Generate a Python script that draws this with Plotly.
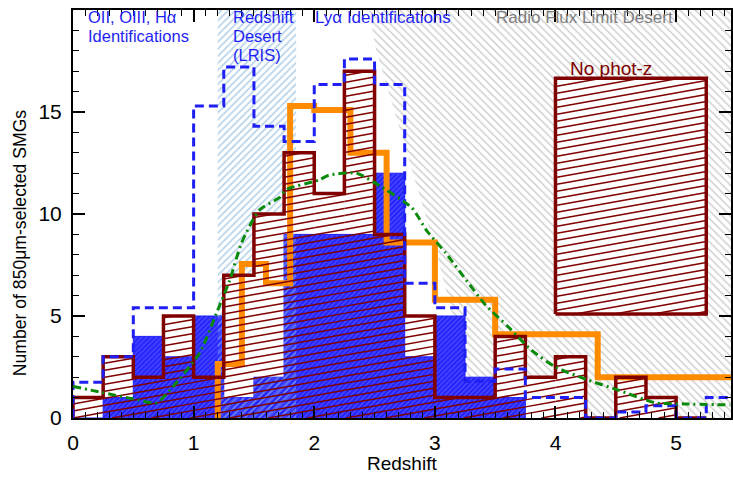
import math
import plotly.graph_objects as go

# ---------------- data ----------------
bin_width = 0.25

# photometric-redshift SMGs (maroon hatched histogram)
photz_counts = [1, 3, 2, 5, 2, 7, 10, 13, 11, 17, 9, 5, 1, 1, 4, 2, 3, 0, 2, 1, 0]
# spectroscopic SMGs (solid blue histogram)
specz_counts = [0, 1, 4, 3, 5, 1, 2, 9, 9, 9, 12, 3, 5, 2, 1]
# full sample (blue dashed histogram)
total_counts = [1.75, 3.0, 5.4, 5.4, 15.3, 17.2, 14.3, 13.55, 16.35, 17.6, 16.35,
                6.6, 5.4, 1.8, 2.4, 1.0, 1.0, 0.0, 0.3, 0.6, 0.0, 1.0]
# radio-identified distribution (orange step line), uneven bins
radio_edges = [1.2, 1.4, 1.6, 1.8, 2.0, 2.3, 2.6, 3.0, 3.5, 4.35, 5.6]
radio_counts = [2.65, 7.55, 6.6, 15.3, 15.1, 13.0, 8.6, 5.8, 4.1, 2.0]
# model curve (green dash-dot)
model_z = [0.0, 0.24, 0.49, 0.694, 0.826, 1.05, 1.19, 1.30, 1.397, 1.545, 1.71, 1.77,
           2.04, 2.12, 2.35, 2.51, 2.81, 2.93, 3.09, 3.26, 3.42, 3.61, 3.80,
           4.0, 4.27, 4.52, 4.83, 5.07, 5.45]
model_n = [1.55, 1.25, 0.95, 0.74, 1.52, 3.19, 5.15, 6.76, 8.58, 10.2, 10.8, 11.2,
           11.67, 11.9, 12.0, 11.5, 10.3, 9.2, 8.09, 6.76, 5.54, 4.46, 3.33,
           2.5, 1.86, 1.37, 0.74, 0.69, 0.64]
# spectroscopic redshift desert (LRIS)
desert_z = [1.2, 1.85]
# boundary of the radio flux limit desert
radio_limit_z = [2.455, 2.51, 3.01, 3.26, 3.37]
radio_limit_n = [20.0, 18.1, 8.2, 2.35, 0.0]
# sources without photometric redshift
nophotz_z = [4.0, 5.25]
nophotz_n = [5.1, 16.65]

X_MAX, Y_MAX = 5.455, 20

MAROON = "#800000"
BLUE = "#1f1ff5"
ORANGE = "#ff8c00"
GREEN = "#0a8a0a"
GRAY_TXT = "#808080"
FONT = "Liberation Sans, Arial, Helvetica, sans-serif"


def edges_for(counts):
    return [i * bin_width for i in range(len(counts) + 1)]


def step_path(edges, heights, base=0.0):
    xs, ys = [edges[0]], [base]
    for i, h in enumerate(heights):
        xs += [edges[i], edges[i + 1]]
        ys += [h, h]
    xs.append(edges[-1])
    ys.append(base)
    return xs, ys


def clip_bins(edges, heights, lo, hi):
    """Restrict a histogram to the interval [lo, hi]."""
    new_edges, new_heights = [], []
    for i, h in enumerate(heights):
        a, b = max(edges[i], lo), min(edges[i + 1], hi)
        if b > a:
            if not new_edges:
                new_edges.append(a)
            new_edges.append(b)
            new_heights.append(h)
    return new_edges, new_heights


def hatch(columns, slope, spacing):
    """Shallow hatch lines clipped to a set of (z0, z1, top, bottom) columns."""
    zmin = min(c[0] for c in columns)
    zmax = max(c[1] for c in columns)
    top = max(c[2] for c in columns)
    bottom = min(c[3] for c in columns)
    c = math.floor((bottom - slope * zmax) / spacing) * spacing
    c_hi = top - slope * zmin
    xs, ys = [], []
    while c <= c_hi:
        for z0, z1, t, b in columns:
            lo = max(z0, (b - c) / slope)
            hi = min(z1, (t - c) / slope)
            if hi > lo:
                xs += [lo, hi, None]
                ys += [slope * lo + c, slope * hi + c, None]
        c += spacing
    return xs, ys


fig = go.Figure()

# radio flux limit desert (grey hatch)
gx = radio_limit_z + [X_MAX + 0.1, X_MAX + 0.1]
gy = radio_limit_n + [0, Y_MAX]
fig.add_trace(go.Scatter(
    x=gx, y=gy, mode="lines", fill="toself", line=dict(width=0),
    fillcolor="rgba(0,0,0,0)",
    fillpattern=dict(shape="\\", fgcolor="#9c9c9c", size=5.5, solidity=0.28),
    hoverinfo="skip"))

# redshift desert (light-blue hatch)
fig.add_trace(go.Scatter(
    x=[desert_z[0], desert_z[1], desert_z[1], desert_z[0], desert_z[0]],
    y=[0, 0, Y_MAX, Y_MAX, 0], mode="lines", fill="toself", line=dict(width=0),
    fillcolor="rgba(0,0,0,0)",
    fillpattern=dict(shape="/", fgcolor="#6aa6d6", size=5, solidity=0.34),
    hoverinfo="skip"))

# white backgrounds under the maroon hatching
pe = edges_for(photz_counts)
px_, py_ = step_path(pe, photz_counts)
fig.add_trace(go.Scatter(x=px_, y=py_, mode="lines", fill="toself",
                         fillcolor="white", line=dict(width=0), hoverinfo="skip"))
bx = [nophotz_z[0], nophotz_z[1], nophotz_z[1], nophotz_z[0], nophotz_z[0]]
by = [nophotz_n[0], nophotz_n[0], nophotz_n[1], nophotz_n[1], nophotz_n[0]]
fig.add_trace(go.Scatter(x=bx, y=by, mode="lines", fill="toself",
                         fillcolor="white", line=dict(width=0), hoverinfo="skip"))

# spectroscopic histogram (filled blue)
se = edges_for(specz_counts)
sx, sy = step_path(se, specz_counts)
fig.add_trace(go.Scatter(
    x=sx, y=sy, mode="lines", fill="toself", fillcolor=BLUE,
    line=dict(width=1, color=BLUE),
    fillpattern=dict(shape="/", bgcolor="#2323ff", fgcolor="#8c8cff",
                     size=3.5, solidity=0.3),
    hoverinfo="skip"))

# desert hatch showing through the blue fill
de, dh = clip_bins(se, specz_counts, desert_z[0], desert_z[1])
dx, dy = step_path(de, dh)
fig.add_trace(go.Scatter(
    x=dx, y=dy, mode="lines", fill="toself", line=dict(width=0),
    fillcolor="rgba(0,0,0,0)",
    fillpattern=dict(shape="/", fgcolor="#8fc0ea", size=5, solidity=0.4),
    hoverinfo="skip"))

# radio distribution (orange)
rx, ry = step_path(radio_edges, radio_counts)
fig.add_trace(go.Scatter(x=rx[:-1], y=ry[:-1], mode="lines",
                         line=dict(color=ORANGE, width=6), hoverinfo="skip"))

# maroon hatching
slope = 1.06
spacing = 0.343
cols = [(pe[i], pe[i + 1], h, 0.0) for i, h in enumerate(photz_counts) if h > 0]
hx, hy = hatch(cols, slope, spacing)
fig.add_trace(go.Scatter(x=hx, y=hy, mode="lines",
                         line=dict(color=MAROON, width=1.5), hoverinfo="skip"))
kx, ky = hatch([(nophotz_z[0], nophotz_z[1], nophotz_n[1], nophotz_n[0])], slope, spacing)
fig.add_trace(go.Scatter(x=kx, y=ky, mode="lines",
                         line=dict(color=MAROON, width=1.5), hoverinfo="skip"))

# maroon outlines
fig.add_trace(go.Scatter(x=px_, y=py_, mode="lines",
                         line=dict(color=MAROON, width=3.5), hoverinfo="skip"))
fig.add_trace(go.Scatter(x=bx, y=by, mode="lines",
                         line=dict(color=MAROON, width=3.5), hoverinfo="skip"))

# full sample (blue dashed)
te = edges_for(total_counts)
tx, ty = step_path(te, total_counts)
fig.add_trace(go.Scatter(x=tx, y=ty, mode="lines",
                         line=dict(color=BLUE, width=3, dash="9px,5px"),
                         hoverinfo="skip"))

# model (green dash-dot)
fig.add_trace(go.Scatter(x=model_z, y=model_n, mode="lines",
                         line=dict(color=GREEN, width=3, dash="8px,4px,2px,4px",
                                   shape="spline", smoothing=0.6),
                         hoverinfo="skip"))

# region labels
def label(text, z, py, color, size=16.5):
    fig.add_annotation(x=z, y=(418 - py) / 20.4, xref="x", yref="y", text=text,
                       showarrow=False, xanchor="left", yanchor="middle",
                       borderpad=0, font=dict(family=FONT, size=size, color=color))

label("OII, OIII, Hα", 0.116, 17, BLUE)
label("Identifications", 0.116, 36, BLUE)
label("Redshift", 1.314, 17, BLUE)
label("Desert", 1.314, 36, BLUE)
label("(LRIS)", 1.314, 55, BLUE)
label("Lyα Identifications", 2.0, 17, BLUE, 17)
label("Radio Flux Limit Desert", 3.5, 17, GRAY_TXT, 17)
label("No phot-z", 4.11, 68, MAROON, 19)

# axis titles
fig.add_annotation(text="Redshift", x=0.5, y=(418 - 463) / 408, xref="paper", yref="paper",
                   showarrow=False, xanchor="center", yanchor="middle",
                   font=dict(family=FONT, size=19, color="black"))
fig.add_annotation(text="Number of 850μm-selected SMGs", x=(20 - 73) / 660,
                   y=(418 - 243) / 408, xref="paper", yref="paper", textangle=-90,
                   showarrow=False, xanchor="center", yanchor="middle",
                   font=dict(family=FONT, size=17.6, color="black"))

axis_common = dict(showgrid=False, zeroline=False, showline=True, linecolor="black",
                   linewidth=2, mirror="allticks", ticks="inside", ticklen=12,
                   tickwidth=1.5, tickcolor="black")

fig.update_xaxes(range=[0, X_MAX], tickvals=[0, 1, 2, 3, 4, 5],
                 minor=dict(dtick=0.1, tick0=0, ticks="inside", ticklen=6,
                            tickwidth=1, tickcolor="black"),
                 tickfont=dict(family=FONT, size=21, color="black"),
                 ticklabelstandoff=5, **axis_common)
fig.update_yaxes(range=[0, Y_MAX], tickvals=[0, 5, 10, 15, 20],
                 minor=dict(dtick=1, tick0=0, ticks="inside", ticklen=6,
                            tickwidth=1, tickcolor="black"),
                 tickfont=dict(family=FONT, size=21, color="black"),
                 ticklabelstandoff=5, **axis_common)

fig.update_layout(width=733, height=478, margin=dict(l=73, r=0, t=10, b=60),
                  plot_bgcolor="white", paper_bgcolor="white", showlegend=False,
                  font=dict(family=FONT, color="black"))

fig.write_html("out.html")
